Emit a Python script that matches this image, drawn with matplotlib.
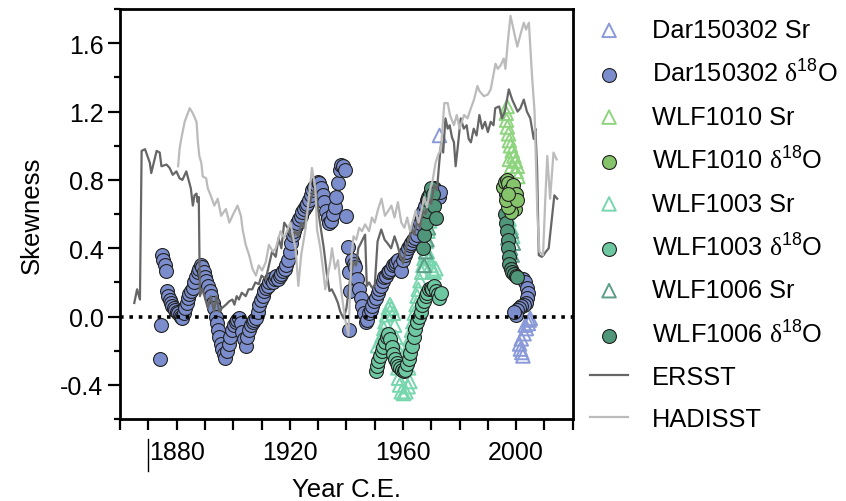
import numpy as np
import matplotlib
matplotlib.use('Agg')
import matplotlib.pyplot as plt
from matplotlib.ticker import MultipleLocator, FormatStrFormatter
from matplotlib.lines import Line2D

plt.rcParams['font.family'] = ['Liberation Sans', 'DejaVu Sans']
plt.rcParams['mathtext.fontset'] = 'custom'
plt.rcParams['mathtext.rm'] = 'Liberation Sans'
plt.rcParams['mathtext.sf'] = 'Liberation Serif'
plt.rcParams['mathtext.default'] = 'regular'

# SST skewness lines
ersst_year = [1865, 1866, 1867, 1867.6, 1868.8, 1870.5, 1871, 1872.9, 1874, 1874.6, 1876.4, 1877.5,
              1878.6, 1879.9, 1881, 1882, 1883.4, 1884.2, 1885, 1885.7, 1886.3, 1887, 1887.4, 1887.8,
              1888.2, 1889, 1889.8, 1891, 1892, 1893.2, 1894, 1895, 1896, 1897.4, 1898.6, 1899.7,
              1900.4, 1901.2, 1902, 1903, 1904.4, 1905.4, 1906.7, 1907.8, 1909, 1910, 1911.5, 1912.6,
              1913.7, 1915, 1916, 1917, 1918, 1919.6, 1920.8, 1922, 1923, 1924, 1925, 1926, 1927,
              1928, 1929, 1930, 1931, 1932, 1933, 1934, 1934.8, 1936, 1937, 1937.8, 1939, 1940,
              1941.3, 1942.5, 1943.4, 1944.2, 1945.4, 1946.6, 1947.2, 1948, 1949, 1950, 1951, 1952.3,
              1953.5, 1954.5, 1955.8, 1957, 1958, 1959, 1960, 1961, 1962, 1963, 1964, 1965, 1966,
              1967, 1968, 1969, 1970, 1971, 1972, 1972.8, 1973.5, 1974.2, 1975, 1975.8, 1976.5,
              1977.3, 1978, 1978.6, 1979.4, 1980.4, 1981.5, 1982.5, 1983.2, 1984, 1985, 1986, 1987,
              1988, 1989, 1990, 1991, 1992, 1992.6, 1994, 1995, 1996, 1997.4, 1998.6, 1999.7, 2000.5,
              2001.5, 2002.7, 2003.8, 2005, 2006.2, 2006.8, 2007.4, 2008, 2009, 2009.7, 2010.5,
              2011.5, 2012.6, 2013.5, 2014.5]
ersst_skew = [0.08, 0.16, 0.10, 0.97, 0.98, 0.90, 0.84, 0.97, 0.96, 0.88, 0.89, 0.87,
              0.83, 0.85, 0.81, 0.80, 0.85, 0.80, 0.75, 0.65, 0.71, 0.72, 0.67, 0.70,
              0.12, 0.16, 0.12, 0.05, 0.12, 0.03, 0.12, 0.03, 0.05, 0.07, 0.09, 0.10,
              0.07, 0.12, 0.10, 0.14, 0.12, 0.16, 0.16, 0.20, 0.19, 0.24, 0.22, 0.30,
              0.38, 0.35, 0.46, 0.40, 0.55, 0.51, 0.45, 0.50, 0.47, 0.55, 0.52, 0.62, 0.66,
              0.72, 0.76, 0.62, 0.51, 0.40, 0.26, 0.15, 0.16, 0.12, 0.08, 0.03, -0.01, 0.05,
              0.22, 0.32, 0.30, 0.40, 0.44, 0.48, 0.18, 0.20, 0.17, 0.18, 0.44, 0.51,
              0.45, 0.43, 0.40, 0.47, 0.42, 0.36, 0.31, 0.40, 0.45, 0.52, 0.48, 0.56, 0.52,
              0.62, 0.60, 0.70, 0.66, 0.77, 0.74, 0.90, 1.02, 0.96, 1.16, 1.10, 1.12,
              1.05, 1.02, 0.88, 1.00, 1.16, 1.10, 1.12, 1.04, 1.02, 1.10, 1.06, 1.18,
              1.10, 1.14, 1.08, 1.14, 1.12, 1.22, 1.23, 1.16, 1.20, 1.33, 1.27, 1.23, 1.20,
              1.22, 1.27, 1.20, 1.16, 1.04, 1.10, 0.87, 0.36, 0.35, 0.36, 0.38,
              0.40, 0.57, 0.71, 0.69]

hadisst_year = [1880.5, 1881, 1881.6, 1882.8, 1884.6, 1885.7, 1887, 1887.5, 1888, 1888.7, 1889.2,
                1890.4, 1891, 1892, 1893.3, 1894.5, 1895.7, 1897.4, 1898.6, 1900, 1901.5, 1902.7,
                1903.3, 1904.4, 1905.6, 1906.8, 1908, 1909, 1910.2, 1911.5, 1912.6, 1914, 1915,
                1916.7, 1918, 1919, 1920.2, 1921, 1922, 1923, 1924, 1925.5, 1926.7, 1927.8, 1929,
                1929.6, 1930.8, 1932, 1932.5, 1934.3, 1934.9, 1936, 1937, 1938.4, 1939.5, 1940.7,
                1941.8, 1942.5, 1943.5, 1944.5, 1945.5, 1946.6, 1948, 1949, 1950, 1951.2, 1952.4,
                1953.6, 1954.8, 1955.9, 1957, 1958.2, 1959.4, 1960.5, 1961.5, 1962.5, 1963.5,
                1964.5, 1965.5, 1966.5, 1967.5, 1968.5, 1969.5, 1970.5, 1971.5, 1972.5, 1973.4,
                1974.6, 1975.8, 1976.6, 1978, 1979, 1980, 1981.6, 1982.8, 1984, 1985.1, 1986.3,
                1987, 1988.6, 1990, 1991, 1992.7, 1993.5, 1994.5, 1995.6, 1996.2, 1997, 1998,
                1999.2, 2000.4, 2001.5, 2002.7, 2003.5, 2004.5, 2005.6, 2006.5, 2007.5, 2008.2,
                2009.5, 2010.3, 2011, 2012, 2013.2, 2014.3]
hadisst_skew = [0.88, 0.98, 1.04, 1.14, 1.22, 1.19, 1.14, 1.02, 0.94, 0.90, 0.82,
                0.81, 0.75, 0.71, 0.65, 0.69, 0.59, 0.63, 0.55, 0.60, 0.65, 0.59,
                0.51, 0.42, 0.36, 0.28, 0.24, 0.30, 0.27, 0.32, 0.42, 0.38, 0.40,
                0.50, 0.46, 0.50, 0.55, 0.48, 0.40, 0.18, 0.36, 0.51, 0.69, 0.87, 0.75,
                0.51, 0.40, 0.24, 0.16, 0.32, 0.40, 0.28, 0.33, 0.12, -0.01, -0.11,
                0.36, 0.47, 0.45, 0.52, 0.50, 0.54, 0.50, 0.58, 0.55, 0.63, 0.69,
                0.59, 0.62, 0.65, 0.58, 0.67, 0.55, 0.52, 0.58, 0.50, 0.56,
                0.62, 0.55, 0.62, 0.70, 0.64, 0.74, 0.80, 0.90, 0.95, 0.98,
                1.25, 1.25, 1.18, 1.12, 1.18, 1.10, 1.18, 1.16, 1.22, 1.27, 1.35,
                1.32, 1.29, 1.30, 1.33, 1.48, 1.45, 1.47, 1.51, 1.45, 1.60, 1.76,
                1.67, 1.58, 1.65, 1.72, 1.68, 1.72, 1.41, 1.20, 0.60, 0.38,
                0.36, 0.69, 0.94, 0.69, 0.96, 0.92]

# Dar150302
dar_d18o_year = [1874.0, 1874.3, 1874.7, 1875.3, 1875.8, 1876.2, 1876.4, 1877.0, 1877.5, 1878.0,
                 1878.5, 1879.0, 1879.5, 1880.0, 1880.5, 1881.0, 1881.5, 1882.0, 1882.5, 1883.0,
                 1883.5, 1884.0, 1884.5, 1885.0, 1885.6, 1886.2, 1886.8, 1887.4, 1888.0, 1888.5,
                 1889.0, 1889.5, 1890.0, 1890.5, 1891.0, 1891.6, 1892.2, 1892.8, 1893.3, 1893.8,
                 1894.2, 1894.6, 1895.0, 1895.5, 1896.0, 1896.6, 1897.2, 1897.8, 1898.4, 1899.0,
                 1899.6, 1900.2, 1900.8, 1901.4, 1902.0, 1902.6, 1903.2, 1903.8, 1904.4, 1905.0,
                 1905.6, 1906.2, 1906.8, 1907.4, 1908.0, 1908.6, 1909.2, 1909.8, 1910.4, 1911.0,
                 1911.6, 1912.2, 1912.8, 1913.4, 1914.0, 1914.6, 1915.2, 1915.8, 1916.4, 1917.0,
                 1917.6, 1918.2, 1918.8, 1919.4, 1920.0, 1920.5, 1921.0, 1921.5, 1922.0, 1922.6,
                 1923.2, 1923.8, 1924.4, 1925.0, 1925.6, 1926.2, 1926.8, 1927.4, 1928.0, 1928.6,
                 1929.2, 1929.8, 1930.4, 1931.0, 1931.6, 1932.2, 1932.8, 1933.4, 1934.0, 1934.6,
                 1935.2, 1935.8, 1936.4, 1937.0, 1937.6, 1938.2, 1938.8, 1939.4, 1940.0, 1940.4,
                 1941.0, 1941.3, 1940.8, 1942.0, 1942.6, 1943.2, 1943.8, 1944.4, 1945.0, 1945.6,
                 1946.2, 1946.8, 1947.4, 1948.0, 1948.6, 1949.2, 1949.8, 1950.4, 1951.0, 1951.6,
                 1952.2, 1952.8, 1953.4, 1954.0, 1954.6, 1955.2, 1955.8, 1956.4, 1957.0, 1957.6,
                 1958.2, 1958.8, 1959.4, 1960.0, 1960.6, 1961.2, 1961.8, 1962.4, 1963.0, 1963.6,
                 1964.2, 1964.8, 1965.4, 1966.0, 1966.6, 1967.2, 1967.8, 1968.4, 1969.0, 1969.6,
                 1970.2, 1970.8, 1971.4, 1972.0, 1972.6, 1973.2,
                 2002.5, 2003.2, 2003.8, 2004.2, 2004.0, 2003.4, 2002.6, 2001.8, 2001.0, 2000.4,
                 1999.8, 1999.4]
dar_d18o_skew = [-0.25, -0.05, 0.36, 0.33, 0.30, 0.27, 0.15, 0.12, 0.10, 0.08,
                 0.06, 0.05, 0.04, 0.03, 0.02, 0.01, 0.00, -0.01, 0.02, 0.05,
                 0.08, 0.11, 0.13, 0.15, 0.17, 0.20, 0.23, 0.26, 0.28, 0.30,
                 0.29, 0.26, 0.23, 0.21, 0.18, 0.15, 0.12, 0.08, 0.05, 0.00,
                 -0.04, -0.08, -0.12, -0.16, -0.19, -0.22, -0.24, -0.20, -0.16, -0.12,
                 -0.08, -0.05, -0.03, -0.02, -0.01, -0.04, -0.09, -0.13, -0.17, -0.12,
                 -0.08, -0.05, -0.03, -0.02, -0.01, 0.03, 0.07, 0.10, 0.12, 0.15,
                 0.17, 0.18, 0.20, 0.22, 0.20, 0.22, 0.24, 0.22, 0.24, 0.25,
                 0.27, 0.28, 0.30, 0.33, 0.38, 0.43, 0.48, 0.50, 0.53, 0.55,
                 0.57, 0.59, 0.61, 0.63, 0.65, 0.66, 0.68, 0.71, 0.74, 0.76,
                 0.77, 0.79, 0.78, 0.75, 0.71, 0.67, 0.62, 0.58, 0.55, 0.56,
                 0.60, 0.64, 0.70, 0.78, 0.86, 0.89, 0.88, 0.86, 0.59, 0.41,
                 0.26, 0.15, -0.08, 0.33, 0.31, 0.29, 0.22, 0.16, 0.11, 0.06,
                 0.02, -0.03, -0.02, 0.02, 0.04, 0.06, 0.09, 0.11, 0.14, 0.16,
                 0.18, 0.21, 0.23, 0.24, 0.26, 0.27, 0.28, 0.30, 0.31, 0.32,
                 0.33, 0.30, 0.27, 0.33, 0.36, 0.38, 0.40, 0.42, 0.43, 0.45,
                 0.46, 0.48, 0.52, 0.55, 0.58, 0.62, 0.65, 0.68, 0.70, 0.72,
                 0.73, 0.75, 0.74, 0.72, 0.70, 0.73,
                 0.22, 0.20, 0.17, 0.14, 0.11, 0.08, 0.07, 0.06, 0.05, 0.04,
                 0.01, 0.03]
dar_sr_year = [1972.9, 2005.0, 2004.3, 2003.6, 2002.8, 2001.8, 2001.2, 2001.5, 2002.0, 2002.4,
               2003.2, 2004.6]
dar_sr_skew = [1.06, -0.01, -0.04, -0.07, -0.10, -0.13, -0.16, -0.19, -0.21, -0.23,
               -0.05, -0.02]

# WLF1010
wlf1010_sr_year = [1996.8, 1996.5, 1996.6, 1996.9, 1997.3, 1997.6, 1998.0, 1998.6, 1999.2, 1999.8,
                   2000.4, 2000.0, 1998.4, 1997.6, 2000.6]
wlf1010_sr_skew = [1.23, 1.19, 1.15, 1.11, 1.07, 1.03, 1.00, 0.97, 0.94, 0.91,
                   0.88, 0.85, 0.88, 0.92, 0.82]
wlf1010_d18o_year = [1995.5, 1996.0, 1996.6, 1997.2, 1997.8, 1998.4, 1999.0, 1999.6, 1998.0, 1997.2,
                     1996.4, 1998.8, 1999.8, 2000.2, 1997.0]
wlf1010_d18o_skew = [0.76, 0.79, 0.80, 0.78, 0.74, 0.70, 0.66, 0.63, 0.61, 0.64,
                     0.68, 0.77, 0.72, 0.68, 0.72]

# WLF1003
wlf1003_sr_year = [1951.0, 1952.0, 1952.6, 1953.2, 1953.6, 1954.2, 1954.8, 1955.4, 1956.0, 1956.6,
                   1957.0, 1957.4, 1957.8, 1958.0, 1958.2, 1958.4, 1958.8, 1959.4, 1960.2, 1961.0,
                   1961.8, 1962.4, 1962.0, 1961.6, 1962.0, 1962.4, 1963.0, 1963.5, 1964.0, 1964.6,
                   1965.0, 1965.4, 1966.0, 1966.6, 1967.0, 1967.4, 1968.0, 1968.6, 1969.2, 1969.8,
                   1970.4, 1971.0, 1971.6, 1968.2, 1968.8, 1969.4, 1970.0,
                   1996.8, 1997.5, 1998.2, 1998.8]
wlf1003_sr_skew = [-0.17, -0.14, -0.11, -0.07, -0.03, 0.01, 0.05, 0.07, 0.05, 0.02,
                   -0.05, -0.12, -0.18, -0.23, -0.30, -0.36, -0.40, -0.44, -0.45, -0.44,
                   -0.41, -0.38, -0.30, -0.22, -0.17, -0.13, -0.08, -0.03, 0.02, 0.07,
                   0.12, 0.16, 0.21, 0.26, 0.30, 0.34, 0.36, 0.38, 0.34, 0.30,
                   0.27, 0.26, 0.28, 0.44, 0.50, 0.56, 0.61,
                   0.61, 0.57, 0.52, 0.47]
wlf1003_d18o_year = [1950.4, 1950.8, 1951.2, 1951.8, 1952.4, 1953.0, 1953.6, 1954.2, 1954.8, 1955.4,
                     1956.0, 1956.6, 1957.2, 1957.8, 1958.4, 1959.0, 1959.6, 1960.2, 1960.8, 1961.4,
                     1962.0, 1962.6, 1963.2, 1963.8, 1964.4, 1965.0, 1965.6, 1966.2, 1966.8, 1967.4,
                     1968.0, 1968.6, 1969.2, 1969.8, 1970.4, 1971.0, 1971.6, 1972.2, 1972.8, 1973.4]
wlf1003_d18o_skew = [-0.32, -0.29, -0.26, -0.23, -0.20, -0.18, -0.15, -0.12, -0.10, -0.13,
                     -0.18, -0.22, -0.25, -0.27, -0.29, -0.30, -0.31, -0.32, -0.31, -0.28,
                     -0.25, -0.21, -0.17, -0.12, -0.07, -0.03, 0.00, 0.03, 0.07, 0.09,
                     0.12, 0.14, 0.16, 0.17, 0.16, 0.18, 0.15, 0.13, 0.11, 0.14]

# WLF1006
wlf1006_sr_year = [1967.5, 1968.0, 1968.5, 1969.0, 1969.5, 1970.0, 1970.5,
                   1997.0, 1997.0, 1998.0, 1998.6, 1998.3, 1999.0]
wlf1006_sr_skew = [0.30, 0.38, 0.45, 0.52, 0.58, 0.64, 0.70,
                   0.61, 0.46, 0.40, 0.36, 0.50, 0.43]
wlf1006_d18o_year = [1967.0, 1967.5, 1968.0, 1968.5, 1969.0, 1969.5, 1970.0, 1970.5, 1971.0, 1971.5,
                     1996.0, 1996.4, 1996.8, 1997.0, 1997.2, 1997.4, 1997.6, 1998.0, 1998.6, 1999.2,
                     1999.8, 2000.4, 1996.5, 1997.5, 1998.5, 1999.5]
wlf1006_d18o_skew = [0.40, 0.48, 0.55, 0.62, 0.68, 0.72, 0.75, 0.72, 0.65, 0.58,
                     0.60, 0.55, 0.50, 0.45, 0.40, 0.35, 0.31, 0.28, 0.26, 0.25,
                     0.24, 0.23, 0.72, 0.68, 0.65, 0.70]

c_dar = '#7b8dcc'
c_dar_tri = '#8a9ad8'
c_1010 = '#86c46b'
c_1010_tri = '#8fd47f'
c_1003 = '#6dc7a0'
c_1003_tri = '#78d6ae'
c_1006 = '#4f967a'
c_1006_tri = '#5c9e87'

fig = plt.figure(figsize=(8.46, 5.02), dpi=100)
ax = fig.add_axes([0.142, 0.163, 0.535, 0.817])

circ = dict(marker='o', s=100, edgecolors='#222222', linewidths=0.8, zorder=2)
tri = dict(marker='^', s=95, facecolors='none', linewidths=1.4, zorder=2)

h_dar_d = ax.scatter(dar_d18o_year, dar_d18o_skew, c=c_dar, **circ)
h_dar_s = ax.scatter(dar_sr_year, dar_sr_skew, edgecolors=c_dar_tri, **tri)
h_1003_s = ax.scatter(wlf1003_sr_year, wlf1003_sr_skew, edgecolors=c_1003_tri, **tri)
h_1003_d = ax.scatter(wlf1003_d18o_year, wlf1003_d18o_skew, c=c_1003, **circ)
h_1006_s = ax.scatter(wlf1006_sr_year, wlf1006_sr_skew, edgecolors=c_1006_tri, **tri)
h_1006_d = ax.scatter(wlf1006_d18o_year, wlf1006_d18o_skew, c=c_1006, **circ)
h_1010_s = ax.scatter(wlf1010_sr_year, wlf1010_sr_skew, edgecolors=c_1010_tri, **tri)
h_1010_d = ax.scatter(wlf1010_d18o_year, wlf1010_d18o_skew, c=c_1010, **circ)

h_er, = ax.plot(ersst_year, ersst_skew, color='#666666', lw=1.6, zorder=3)
h_had, = ax.plot(hadisst_year, hadisst_skew, color='#bbbbbb', lw=1.6, zorder=3)

ax.axhline(0, color='black', lw=2.6, ls=(0, (1, 1.6)), zorder=4)

ax.set_xlim(1860, 2020)
ax.set_ylim(-0.6, 1.8)
ax.xaxis.set_major_locator(MultipleLocator(40))
ax.xaxis.set_minor_locator(MultipleLocator(10))
ax.yaxis.set_major_locator(MultipleLocator(0.4))
ax.yaxis.set_minor_locator(MultipleLocator(0.2))
ax.yaxis.set_major_formatter(FormatStrFormatter('%.1f'))
ax.set_xticks([1880, 1920, 1960, 2000])

for s in ax.spines.values():
    s.set_linewidth(2)
ax.tick_params(axis='both', which='both', direction='out', width=1.6, labelsize=18, colors='black')
ax.tick_params(axis='x', which='both', length=8, pad=7)
ax.tick_params(axis='y', which='major', length=9, pad=3)
ax.tick_params(axis='y', which='minor', length=4.5)

ax.set_xlabel('Year C.E.', fontsize=18.5, labelpad=9)
ax.set_ylabel('Skewness', fontsize=18.5, labelpad=12)

# stray cursor mark under the axis in the original
fig.add_artist(Line2D([148 / 846, 148 / 846], [1 - 440 / 502, 1 - 472 / 502],
                      transform=fig.transFigure, color='black', lw=1))

d = '$\\mathsf{\\delta}^{18}$O'
handles = [h_dar_s, h_dar_d, h_1010_s, h_1010_d, h_1003_s, h_1003_d, h_1006_s, h_1006_d, h_er, h_had]
labels = ['Dar150302 Sr', 'Dar150302 ' + d, 'WLF1010 Sr', 'WLF1010 ' + d,
          'WLF1003 Sr', 'WLF1003 ' + d, 'WLF1006 Sr', 'WLF1006 ' + d, 'ERSST', 'HADISST']
fig.legend(handles, labels, loc='upper left', bbox_to_anchor=(590 / 846, 1 - 19 / 502),
           bbox_transform=fig.transFigure, frameon=False, fontsize=18.3, scatterpoints=1,
           handlelength=1.5, handletextpad=0.95, labelspacing=0.7, borderpad=0, borderaxespad=0)

fig.savefig('out.png', dpi=100)
